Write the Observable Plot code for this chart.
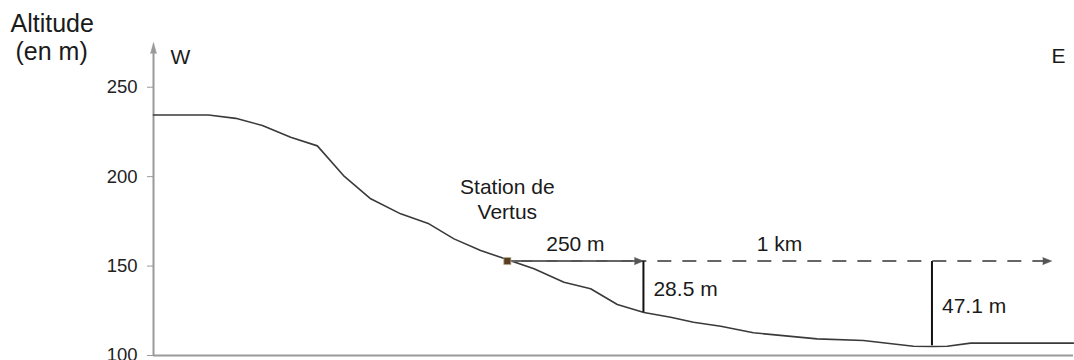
<!DOCTYPE html>
<html>
<head>
<meta charset="utf-8">
<script src="https://cdn.jsdelivr.net/npm/d3@7"></script>
<script src="https://cdn.jsdelivr.net/npm/@observablehq/plot@0.6"></script>
<style>
  html, body { margin: 0; padding: 0; background: #fff; }
  #chart svg { display: block; }
</style>
</head>
<body>
<div id="chart"></div>
<script>
// Profile data (distance in m from the west edge, altitude in m)
const distance = [0, 101, 151, 200, 252, 301, 349, 399, 454, 506, 552, 601, 651, 699, 754, 803, 852, 901, 950, 992, 1042, 1102, 1219, 1304, 1396, 1433, 1458, 1501, 1690];
const altitude = [234.5, 234.5, 232.6, 228.6, 222.0, 217.2, 200.6, 187.6, 179.2, 173.6, 165.2, 158.7, 153.5, 148.5, 141.0, 137.3, 128.5, 124.0, 121.4, 118.6, 116.4, 112.7, 109.3, 108.4, 105.2, 105.0, 105.2, 106.9, 106.9];

// Station
const stationX = 650;
const stationAlt = 152.8;
const stationLabel = "Station de\nVertus";

// Horizontal distances from the station
const arrowEnds = [900, 1650];
const arrowLabels = ["250 m", "1 km"];
const arrowDashed = [false, true];

// Vertical drops
const dropX = [900, 1430];
const dropValues = [28.5, 47.1];

// Axis
const yTicks = [100, 150, 200, 250];
const yMin = 100, yMax = 275;
const xMax = 1690;

const profile = distance.map((d, i) => ({x: d, y: altitude[i]}));
const arrows = arrowEnds.map((e, i) => ({x1: stationX, x2: e, y: stationAlt, label: arrowLabels[i], dashed: arrowDashed[i]}));
const drops = dropX.map((x, i) => ({x, y1: stationAlt, y2: stationAlt - dropValues[i], label: `${dropValues[i]} m`}));

const font = "'Liberation Sans', Arial, Helvetica, sans-serif";
const gray = "#9a9a9a";

const chart = Plot.plot({
  width: 1074,
  height: 360,
  marginLeft: 153,
  marginRight: 1,
  marginTop: 42,
  marginBottom: 5,
  style: {fontFamily: font, fontSize: "18.5px", background: "#fff", overflow: "visible"},
  x: {type: "linear", domain: [0, xMax], axis: null},
  y: {type: "linear", domain: [yMin, yMax], axis: null},
  marks: [
    // axes
    Plot.ruleY([yMin], {stroke: gray, strokeWidth: 2}),
    Plot.ruleX([0], {y1: yMin, y2: 270, stroke: gray, strokeWidth: 2}),
    Plot.vector([{x: 0, y: yMax}], {x: "x", y: "y", length: 11, rotate: 0, shape: "spike", anchor: "end", r: 3, fill: gray, stroke: gray, strokeWidth: 0.5}),
    Plot.axisY({ticks: yTicks, tickSize: 6, tickPadding: 10, stroke: gray, color: "#222", fontSize: 18.5, label: null}),
    // profile
    Plot.line(profile, {x: "x", y: "y", stroke: "#3a3a3a", strokeWidth: 1.6}),
    // horizontal arrows
    Plot.link(arrows.filter(d => !d.dashed), {x1: "x1", x2: "x2", y1: "y", y2: "y", stroke: "#555", strokeWidth: 2}),
    Plot.link(arrows.filter(d => d.dashed), {x1: "x1", x2: "x2", y1: "y", y2: "y", stroke: "#666", strokeWidth: 2, strokeDasharray: "14,11"}),
    Plot.vector(arrows, {x: "x2", y: "y", length: 9, rotate: 90, shape: "spike", anchor: "end", r: 3.6, fill: "#555", stroke: "#555", strokeWidth: 0.5}),
    Plot.text(arrows, {x: d => (d.x1 + d.x2) / 2, y: "y", text: "label", dy: -17, fontSize: 21, fill: "#1a1a1a"}),
    // vertical drops
    Plot.link(drops, {x1: "x", x2: "x", y1: "y1", y2: "y2", stroke: "#111", strokeWidth: 2}),
    Plot.text(drops, {x: "x", y: d => (d.y1 + d.y2) / 2, text: "label", textAnchor: "start", dx: 10, dy: 3, fontSize: 21, fill: "#1a1a1a"}),
    // station
    Plot.dot([{x: stationX, y: stationAlt}], {x: "x", y: "y", symbol: "square", r: 4, fill: "#5a3d22", stroke: "#b8b090", strokeWidth: 0.8}),
    Plot.text([{x: stationX, y: stationAlt, t: stationLabel}], {x: "x", y: "y", text: "t", dy: -63, lineHeight: 1.2, fontSize: 21, fill: "#1a1a1a"}),
    // W / E
    Plot.text(["W"], {frameAnchor: "top-left", text: d => d, dx: 17, dy: 7, fontSize: 21, fill: "#1a1a1a"}),
    Plot.text(["E"], {frameAnchor: "top-right", text: d => d, dx: -8, dy: 6, fontSize: 21, fill: "#1a1a1a"}),
    // axis title
    Plot.text(["Altitude"], {frameAnchor: "top-left", text: d => d, dx: -143, dy: -28, fontSize: 25, fill: "#1a1a1a"}),
    Plot.text(["(en m)"], {frameAnchor: "top-left", text: d => d, dx: -138, dy: 0, fontSize: 25, fill: "#1a1a1a"})
  ]
});
document.getElementById("chart").append(chart);
</script>
</body>
</html>
